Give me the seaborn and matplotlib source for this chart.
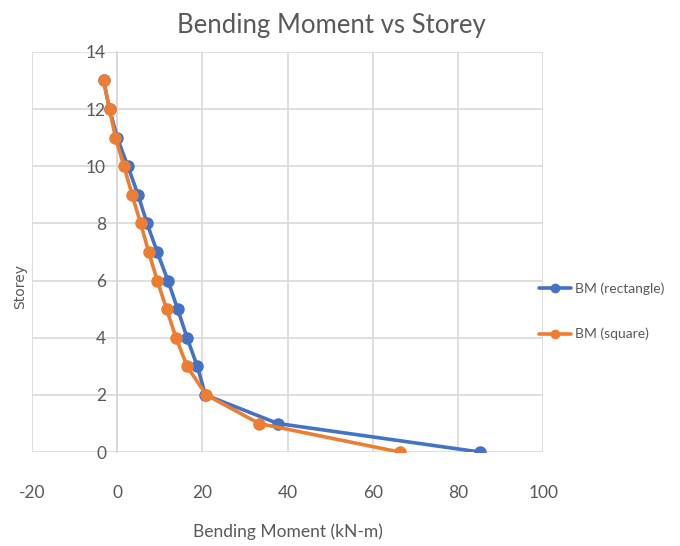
import matplotlib
matplotlib.use("Agg")
import matplotlib.pyplot as plt
import seaborn as sns
import pandas as pd

# Storey levels and bending moments (kN-m) for the two column shapes
storey = [0, 1, 2, 3, 4, 5, 6, 7, 8, 9, 10, 11, 12, 13]
bm_rectangle = [85.2, 37.7, 20.7, 18.8, 16.4, 14.2, 11.9, 9.4, 7.0, 4.9, 2.5, 0.0, -1.8, -3.2]
bm_square = [66.3, 33.3, 20.9, 16.4, 13.8, 11.6, 9.4, 7.4, 5.5, 3.5, 1.6, -0.4, -1.8, -3.2]
series_names = ["BM (rectangle)", "BM (square)"]
x_ticks = [-20, 0, 20, 40, 60, 80, 100]
y_ticks = [0, 2, 4, 6, 8, 10, 12, 14]

df = pd.concat([
    pd.DataFrame({"bm": bm_rectangle, "storey": storey, "series": series_names[0]}),
    pd.DataFrame({"bm": bm_square, "storey": storey, "series": series_names[1]}),
])

sns.set_theme(style="white")
plt.rcParams["font.family"] = ["Lato", "DejaVu Sans"]
plt.rcParams["axes.unicode_minus"] = False
text_col = "#595959"
grid_col = "#d9d9d9"

fig = plt.figure(figsize=(6.8, 5.46), dpi=100)
ax = fig.add_axes([0.047, 0.172, 0.752, 0.733])

sns.lineplot(data=df, x="bm", y="storey", hue="series", sort=False, estimator=None,
             palette=["#4472C4", "#ED7D31"], marker="o", markersize=9,
             markeredgewidth=0, linewidth=2.6, ax=ax, legend=False, zorder=3)

ax.set_xlim(-20, 100)
ax.set_ylim(0, 14)
ax.set_xticks(x_ticks)
ax.set_yticks(y_ticks)
ax.grid(True, color=grid_col, linewidth=1.2)
ax.set_axisbelow(True)
for side in ["top", "right", "bottom"]:
    ax.spines[side].set_visible(False)
# vertical axis crosses at x = 0, labels sit beside it
ax.spines["left"].set_position(("data", 0))
ax.spines["left"].set_color(grid_col)
ax.tick_params(axis="both", length=0, labelsize=12.5, labelcolor=text_col)
ax.tick_params(axis="y", pad=8)
ax.tick_params(axis="x", pad=24)

ax.set_xlabel("Bending Moment (kN-m)", fontsize=12.5, color=text_col, labelpad=16)
ax.set_ylabel("")
fig.text(0.03, 0.475, "Storey", rotation=90, fontsize=10, color=text_col,
         family="DejaVu Sans", ha="center", va="center")
fig.text(0.488, 0.953, "Bending Moment vs Storey", fontsize=18.5, color=text_col,
         ha="center", va="center")

handles = [plt.Line2D([], [], color=c, marker="o", markersize=7, markeredgewidth=0, linewidth=2.6)
           for c in ["#4472C4", "#ED7D31"]]
fig.legend(handles, series_names, loc="center left", bbox_to_anchor=(0.792, 0.43),
           frameon=False, fontsize=10, labelcolor=text_col, handlelength=2.3,
           handletextpad=0.3, labelspacing=2.4, borderpad=0, borderaxespad=0)

fig.savefig("out.png", dpi=100)
